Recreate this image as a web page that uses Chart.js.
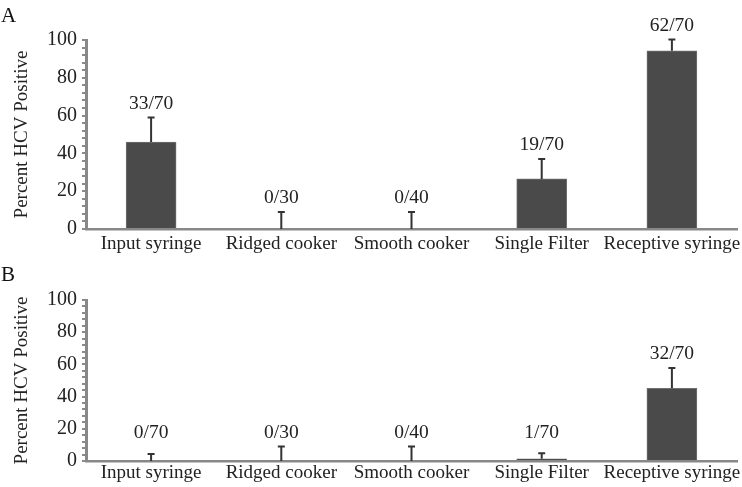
<!DOCTYPE html>
<html>
<head>
<meta charset="utf-8">
<script src="https://cdn.jsdelivr.net/npm/chart.js@4.4.0/dist/chart.umd.min.js"></script>
<style>
  body { margin: 0; background: #fff; }
  #wrap { position: relative; width: 742px; height: 487px; }
  canvas { position: absolute; left: 0; }
  .panel { position: absolute; left: 1px; font-family: 'Liberation Serif', serif; font-size: 21px; color: #111; }
</style>
</head>
<body>
<div id="wrap">
  <canvas id="chartA" width="742" height="260" style="top:0"></canvas>
  <canvas id="chartB" width="742" height="237" style="top:250px"></canvas>
  <div class="panel" style="top:3px">A</div>
  <div class="panel" style="top:262px">B</div>
</div>
<script>
var categories = ['Input syringe', 'Ridged cooker', 'Smooth cooker', 'Single Filter', 'Receptive syringe'];

// panel A
var valuesA = [46, 0, 0, 26.5, 94.3];
var errorsA = [13, 9, 9, 10.5, 6];
var countsA = ['33/70', '0/30', '0/40', '19/70', '62/70'];

// panel B
var valuesB = [0, 0, 0, 1.4, 45.2];
var errorsB = [4.3, 9, 9, 3.4, 12.5];
var countsB = ['0/70', '0/30', '0/40', '1/70', '32/70'];

var yTicks = [0, 20, 40, 60, 80, 100];

var fontFamily = "'Liberation Serif', 'Times New Roman', serif";
Chart.defaults.font.family = fontFamily;
Chart.defaults.color = '#222';

// error bars + n/N labels drawn after the bars
var errorBarPlugin = {
    id: 'errorBars',
    afterDatasetsDraw: function(chart) {
        var ctx = chart.ctx;
        var ds = chart.data.datasets[0];
        var meta = chart.getDatasetMeta(0);
        var y = chart.scales.y;
        var zero = y.getPixelForValue(0);
        ctx.save();
        ctx.strokeStyle = '#333';
        ctx.lineWidth = 2;
        meta.data.forEach(function(bar, i) {
            var topVal = ds.data[i] + ds.errors[i];
            var yTop = y.getPixelForValue(topVal);
            var yBar = y.getPixelForValue(ds.data[i]);
            ctx.beginPath();
            ctx.moveTo(bar.x, yBar);
            ctx.lineTo(bar.x, yTop);
            ctx.moveTo(bar.x - 3.5, yTop);
            ctx.lineTo(bar.x + 3.5, yTop);
            ctx.stroke();
            ctx.fillStyle = '#222';
            ctx.font = '19.5px ' + fontFamily;
            ctx.textAlign = 'center';
            ctx.textBaseline = 'middle';
            var ly = Math.min(yTop - 14, zero - 28);
            ctx.fillText(ds.counts[i], bar.x, ly);
        });
        ctx.restore();
    }
};

function make_chart(id, values, errors, counts, pad, xHeight) {
    var ctx = document.getElementById(id).getContext('2d');
    return new Chart(ctx, {
        type: 'bar',
        data: {
            labels: categories,
            datasets: [{
                data: values,
                errors: errors,
                counts: counts,
                backgroundColor: '#4a4a4a',
                borderColor: '#707070',
                borderWidth: 1,
                barThickness: 50
            }]
        },
        options: {
            responsive: false,
            animation: false,
            layout: { padding: { top: pad.top, right: 5, left: 0, bottom: 0 } },
            plugins: { legend: { display: false }, tooltip: { enabled: false } },
            scales: {
                x: {
                    grid: { display: false, drawTicks: false },
                    border: { color: '#888', width: 2.5 },
                    ticks: { font: { size: 19 }, color: '#222', padding: pad.xPad, maxRotation: 0, autoSkip: false },
                    afterFit: function(s) {
                        s.height = xHeight;
                        s.paddingLeft = 0;
                        s.paddingRight = 0;
                    }
                },
                y: {
                    min: 0,
                    max: 100,
                    grid: { drawOnChartArea: false, drawTicks: true, tickLength: 4, color: '#8a8a8a', lineWidth: 2 },
                    border: { color: '#888', width: 3 },
                    ticks: {
                        stepSize: 4,
                        autoSkip: false,
                        padding: 5,
                        font: { size: 20 },
                        color: '#222',
                        callback: function(v) { return yTicks.indexOf(v) >= 0 ? v : ''; }
                    },
                    title: {
                        display: true,
                        text: 'Percent HCV Positive',
                        font: { size: 19 },
                        color: '#222',
                        padding: { top: 11, bottom: 0 }
                    },
                    afterFit: function(s) { s.width = 86; }
                }
            }
        },
        plugins: [errorBarPlugin]
    });
}

make_chart('chartA', valuesA, errorsA, countsA, { top: 40, xPad: 4 }, 31);
make_chart('chartB', valuesB, errorsB, countsB, { top: 50, xPad: 1 }, 26);
</script>
</body>
</html>
